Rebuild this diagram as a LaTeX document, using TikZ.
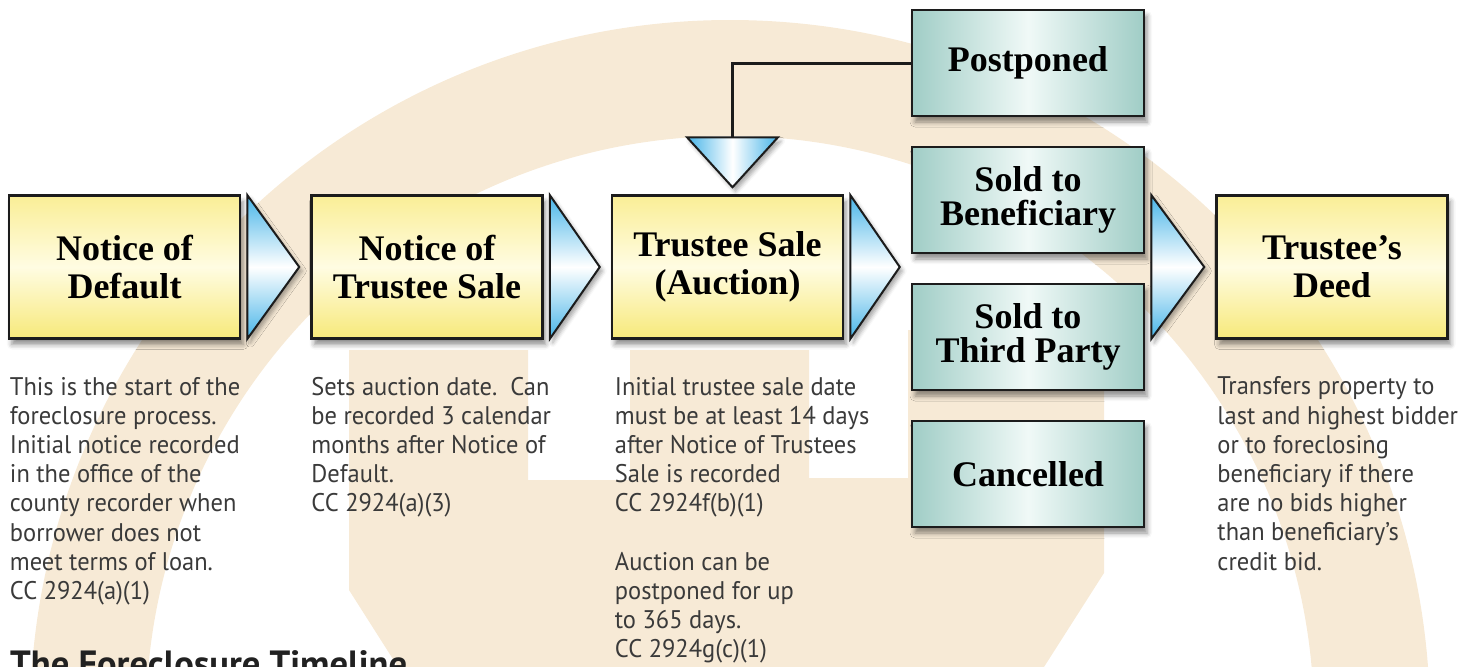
\documentclass[tikz,border=0pt]{standalone}
\usepackage{fontspec}
\setmainfont{Liberation Serif}
\newfontfamily\notefont[FakeStretch=0.96]{PT Sans}
\newfontfamily\headfont{PT Sans}
\usetikzlibrary{calc,shadows.blur}

\definecolor{wash}{RGB}{247,234,214}
\definecolor{boxline}{RGB}{28,28,28}
\definecolor{boxtop}{RGB}{250,238,150}
\definecolor{boxmid}{RGB}{255,252,226}
\definecolor{boxbot}{RGB}{247,233,122}
\definecolor{tealside}{RGB}{160,205,198}
\definecolor{tealmid}{RGB}{240,249,247}
\definecolor{tipblue}{RGB}{70,180,232}
\definecolor{notegray}{RGB}{58,58,58}

\tikzset{
  boxbase/.style={draw=boxline, line width=2.5pt, align=center, text=black,
    blur shadow={shadow xshift=3pt, shadow yshift=-6pt, shadow blur radius=5pt, shadow opacity=45}},
  stepbox/.style={boxbase, minimum width=231pt, minimum height=143pt,
    font=\bfseries\fontsize{36}{38}\selectfont,
    top color=boxtop, bottom color=boxbot, middle color=boxmid},
  outcome/.style={boxbase, minimum width=232pt, minimum height=106pt,
    font=\bfseries\fontsize{36}{34}\selectfont,
    left color=tealside, right color=tealside, middle color=tealmid},
  flowtip/.style={draw=boxline, line width=2pt, line join=miter,
    top color=tipblue, bottom color=tipblue, middle color=white,
    blur shadow={shadow xshift=3pt, shadow yshift=-4pt, shadow blur radius=4pt, shadow opacity=35}},
  downtip/.style={flowtip, left color=tipblue, right color=tipblue, middle color=white},
  note/.style={anchor=north west, inner sep=0pt, align=left, text=notegray,
    font=\notefont\fontsize{25.5}{29.2}\selectfont},
  link/.style={draw=boxline, line width=3pt},
}

\begin{document}
\begin{tikzpicture}[x=1pt, y=-1pt]
  \useasboundingbox (0,0) rectangle (1468,667);
  % faded emblem behind the timeline
  \begin{scope}
    \clip (0,0) rectangle (1468,667);
    \fill[wash, even odd rule] (730,720) circle[radius=700pt] (730,720) circle[radius=584pt];
    \fill[wash] (349,350) -- (528,350) -- (528,480) -- (630,480) -- (630,350) -- (809,350)
      -- (809,478) -- (908,478) -- (908,330) -- (1104,330) -- (1104,573) -- (1044,667)
      -- (398,667) -- (349,590) -- cycle;
  \end{scope}

  % main steps
  \node[stepbox] (nod) at (124.5,267) {Notice of\\Default};
  \node[stepbox] (nts) at (427,267) {Notice of\\Trustee Sale};
  \node[stepbox] (tsa) at (727.5,267) {Trustee Sale\\(Auction)};
  \node[stepbox] (td) at (1332,267) {Trustee's\\Deed};

  % outcomes of the sale
  \foreach \n/\y/\t in {pp/63/Postponed, sb/200/{Sold to\\Beneficiary},
      stp/337/{Sold to\\Third Party}, can/474/Cancelled}
    \node[outcome] (\n) at (1028,\y) {\t};

  % arrows between the steps
  \foreach \a/\b in {nod/nts, nts/tsa, tsa/sb, sb/td}
    \path[flowtip] ($(\a.east |- nod.east)+(6,-72)$) -- ($(\b.west |- nod.east)+(-11,0)$)
      -- ($(\a.east |- nod.east)+(6,72)$) -- cycle;

  % postponed goes back to the auction
  \coordinate (dtip) at ($(tsa.north)+(5,-7)$);
  \coordinate (dtop) at ($(dtip)+(0,-50)$);
  \draw[link] (pp.west) -| (dtop);
  \path[downtip] ($(dtop)+(-45.5,0)$) -- (dtip) -- ($(dtop)+(45.5,0)$) -- cycle;

  % notes under the steps
  \node[note] (n1) at ($(nod.south west)+(2,37)$) {This is the start of the\\foreclosure process.\\Initial notice recorded\\in the office of the\\county recorder when\\borrower does not\\meet terms of loan.\\CC 2924(a)(1)};
  \node[note] (n2) at ($(nts.south west)+(1,37)$) {Sets auction date.\ \ Can\\be recorded 3 calendar\\months after Notice of\\Default.\\CC 2924(a)(3)};
  \node[note] (n3) at ($(tsa.south west)+(4,37)$) {Initial trustee sale date\\must be at least 14 days\\after Notice of Trustees\\Sale is recorded\\CC 2924f(b)(1)\\[29.2pt]Auction can be\\postponed for up\\to 365 days.\\CC 2924g(c)(1)};
  \node[note] (n5) at ($(td.south west)+(2,37)$) {Transfers property to\\last and highest bidder\\or to foreclosing\\beneficiary if there\\are no bids higher\\than beneficiary’s\\credit bid.};

  \node[anchor=base west, inner sep=0pt, text=black!87, font=\headfont\bfseries\fontsize{36.5}{40}\selectfont] (ttl) at (10,676) {The Foreclosure Timeline};
\end{tikzpicture}
\end{document}
